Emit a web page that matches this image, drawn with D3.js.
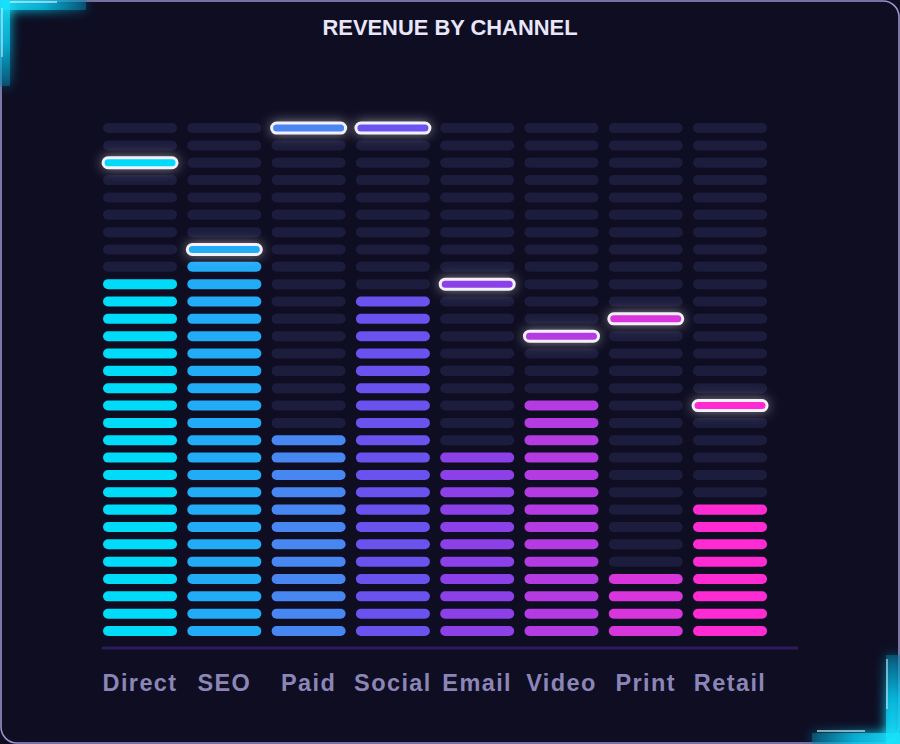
<!DOCTYPE html>
<html><head><meta charset="utf-8">
<script src="https://cdn.jsdelivr.net/npm/d3@7"></script>
<style>html,body{margin:0;padding:0;background:#0e0d22;} svg{display:block}</style>
</head><body><svg id="c" width="900" height="744"></svg>
<script>
// ---- data ----
const categories = ["Direct", "SEO", "Paid", "Social", "Email", "Video", "Print", "Retail"];
const levels = [21, 22, 12, 20, 11, 14, 4, 8];      // lit segments (of 30)
const peaks  = [28, 23, 30, 30, 21, 18, 19, 14];    // peak-hold segment (1-based)
const colors = ["#00dbfa", "#22abf7", "#4886f2", "#6a52ee", "#8c40e8", "#b43ae2", "#d836dc", "#ff2bd2"];
const segmentCount = 30;
const title = "REVENUE BY CHANNEL";

// ---- setup ----
const W = 900, H = 744;
const svg = d3.select("#c");
const defs = svg.append("defs");

const glow = defs.append("filter").attr("id", "peakGlow")
  .attr("x", "-30%").attr("y", "-250%").attr("width", "160%").attr("height", "600%");
glow.append("feGaussianBlur").attr("in", "SourceAlpha").attr("stdDeviation", 6).attr("result", "b");
glow.append("feFlood").attr("flood-color", "#ffffff").attr("flood-opacity", 0.5).attr("result", "f");
glow.append("feComposite").attr("in", "f").attr("in2", "b").attr("operator", "in").attr("result", "g");
const gm = glow.append("feMerge");
gm.append("feMergeNode").attr("in", "g");
gm.append("feMergeNode").attr("in", "SourceGraphic");

const soft = defs.append("filter").attr("id", "soft")
  .attr("x", "-10%").attr("y", "-50%").attr("width", "120%").attr("height", "200%");
soft.append("feGaussianBlur").attr("stdDeviation", 0.7);

const cglow = defs.append("filter").attr("id", "cornerGlow")
  .attr("filterUnits", "userSpaceOnUse")
  .attr("x", -30).attr("y", -30).attr("width", W + 60).attr("height", H + 60);
cglow.append("feGaussianBlur").attr("stdDeviation", 6);

function grad(id, x1, y1, x2, y2) {
  const g = defs.append("linearGradient").attr("id", id)
    .attr("gradientUnits", "userSpaceOnUse")
    .attr("x1", x1).attr("y1", y1).attr("x2", x2).attr("y2", y2);
  g.append("stop").attr("offset", 0).attr("stop-color", "#1ae6ff").attr("stop-opacity", 1);
  g.append("stop").attr("offset", 0.5).attr("stop-color", "#06c8ee").attr("stop-opacity", 0.9);
  g.append("stop").attr("offset", 1).attr("stop-color", "#0a7fa6").attr("stop-opacity", 0.55);
}

// background frame
svg.append("rect").attr("x", 0).attr("y", 0).attr("width", W).attr("height", H).attr("fill", "#0e0d22");
svg.append("rect").attr("x", 1).attr("y", 1).attr("width", W - 2).attr("height", H - 2)
  .attr("rx", 16).attr("fill", "#0e0d22").attr("stroke", "#9a92cc").attr("stroke-width", 1.6);

// corner brackets
grad("gTLh", 0, 0, 88, 0); grad("gTLv", 0, 0, 0, 88);
grad("gBRh", 900, 0, 810, 0); grad("gBRv", 0, 744, 0, 654);
const corners = svg.append("g");
function bracket(hr, vr, gh, gv, thin1, thin2) {
  [[hr, gh], [vr, gv]].forEach(([r, g]) => {
    corners.append("rect").attr("x", r[0]).attr("y", r[1]).attr("width", r[2]).attr("height", r[3])
      .attr("fill", `url(#${g})`).attr("filter", "url(#cornerGlow)");
  });
  [[hr, gh], [vr, gv]].forEach(([r, g]) => {
    corners.append("rect").attr("x", r[0]).attr("y", r[1]).attr("width", r[2]).attr("height", r[3])
      .attr("fill", `url(#${g})`).attr("opacity", 0.75);
  });
  [thin1, thin2].forEach(t => corners.append("line")
    .attr("x1", t[0]).attr("y1", t[1]).attr("x2", t[2]).attr("y2", t[3])
    .attr("stroke", "#cdeff8").attr("stroke-width", 1.3).attr("opacity", 0.85));
}
bracket([0, 0, 86, 10], [0, 0, 10, 86], "gTLh", "gTLv", [10, 2, 57, 2], [2, 8, 2, 57]);
bracket([812, 733, 88, 11], [886, 655, 14, 89], "gBRh", "gBRv", [817, 731, 865, 731], [887, 659, 887, 709]);

// title
svg.append("text").attr("x", W / 2).attr("y", 35).attr("text-anchor", "middle")
  .attr("font-family", "'Liberation Sans', Arial, sans-serif").attr("font-weight", 700)
  .attr("font-size", 21.9).attr("fill", "#e8e6f8").text(title);

// scales
const x = d3.scaleBand().domain(categories).range([97.9, 772.2]).paddingInner(0.122).paddingOuter(0.061);
const seg = d3.range(1, segmentCount + 1);
const y = d3.scaleBand().domain(seg).range([639.7, 119.4]).paddingInner(0.423).paddingOuter(0.2115);
const bw = x.bandwidth(), bh = y.bandwidth();

const cols = svg.append("g").selectAll("g").data(categories).join("g")
  .attr("transform", d => `translate(${x(d)},0)`);

// dim segments
cols.selectAll("rect.dim").data((d, i) => seg.filter(s => s > levels[i] && s !== peaks[i]))
  .join("rect").attr("class", "dim")
  .attr("x", 0).attr("y", s => y(s)).attr("width", bw).attr("height", bh)
  .attr("rx", bh / 2).attr("fill", "#1e1d3e").attr("filter", "url(#soft)");

// lit segments
cols.each(function (d, i) {
  d3.select(this).selectAll("rect.lit").data(seg.filter(s => s <= levels[i]))
    .join("rect").attr("class", "lit")
    .attr("x", 0).attr("y", s => y(s)).attr("width", bw).attr("height", bh)
    .attr("rx", bh / 2).attr("fill", colors[i]);
});

// peak markers
cols.each(function (d, i) {
  d3.select(this).append("rect").attr("class", "peak")
    .attr("x", 0).attr("y", y(peaks[i])).attr("width", bw).attr("height", bh)
    .attr("rx", bh / 2).attr("fill", colors[i])
    .attr("stroke", "#f4f0fb").attr("stroke-width", 3)
    .attr("filter", "url(#peakGlow)");
});

// baseline
svg.append("line").attr("x1", 103).attr("x2", 797).attr("y1", 648).attr("y2", 648)
  .attr("stroke", "#2c1c5e").attr("stroke-width", 3).attr("stroke-linecap", "round");

// category axis labels
const axis = d3.axisBottom(x).tickSize(0).tickPadding(0);
const ag = svg.append("g").attr("transform", "translate(0,673)").call(axis);
ag.select(".domain").remove();
ag.selectAll("text").attr("fill", "#8c86b8")
  .attr("font-family", "'Liberation Sans', Arial, sans-serif").attr("font-weight", 700)
  .attr("font-size", 23.5).attr("letter-spacing", 1.4).attr("dy", "0.75em");
</script>
</body></html>
